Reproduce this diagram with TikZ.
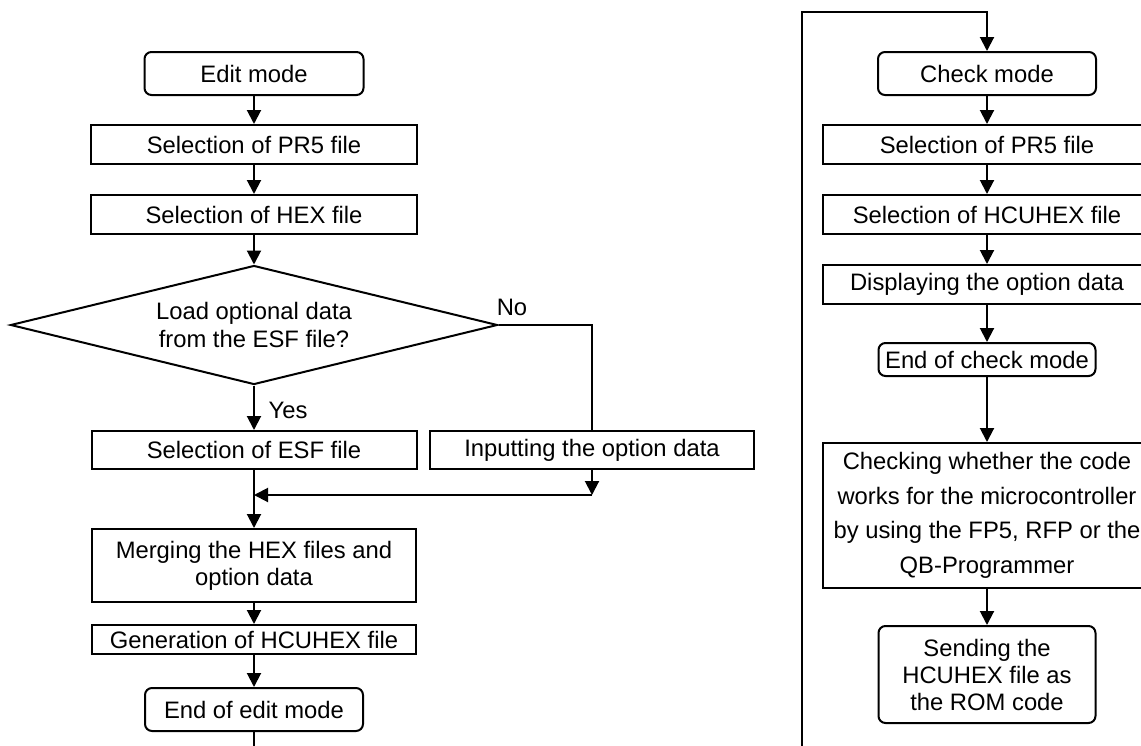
\documentclass[tikz,border=0pt]{standalone}
\usepackage{fontspec}
\setmainfont{Liberation Sans}
\usetikzlibrary{arrows.meta,shapes.geometric}
\tikzset{
  every node/.style={font=\fontsize{23.8pt}{27.5pt}\selectfont},
  stepbox/.style={draw, line width=2pt, inner sep=0pt, align=center},
  termbox/.style={stepbox, rounded corners=7pt},
  conn/.style={line width=2pt},
  arr/.style={conn, -{Triangle[length=14pt,width=14pt]}},
  lbl/.style={inner sep=0pt}
}
\begin{document}
\begin{tikzpicture}[x=1pt,y=-1pt]
\clip (0,0) rectangle (1141,745);
% left column
\node[termbox, minimum width=219pt, minimum height=43pt] (edit) at (254,73.5) {Edit mode};
\node[stepbox, minimum width=326pt, minimum height=39pt] (pr5L) at (254,144.5) {Selection of PR5 file};
\node[stepbox, minimum width=326pt, minimum height=39pt] (hexL) at (254,214.5) {Selection of HEX file};
\node[diamond, draw, line width=2pt, aspect=4.1, inner sep=0pt, minimum width=487pt, minimum height=119pt, align=center,
      font=\fontsize{23.8pt}{28pt}\selectfont] (dec) at (254,325) {Load optional data\\from the ESF file?};
\node[stepbox, minimum width=325pt, minimum height=38pt] (esf) at (254,450) {Selection of ESF file};
\node[stepbox, minimum width=324pt, minimum height=38pt] (inp) at (592,450) {Inputting the option data};
\node[stepbox, minimum width=324pt, minimum height=73pt, font=\fontsize{23.8pt}{27pt}\selectfont] (merge) at (254,565.5) {Merging the HEX files and\\option data};
\node[stepbox, minimum width=324pt, minimum height=29pt] (gen) at (254,639.5) {Generation of HCUHEX file};
\node[termbox, minimum width=218pt, minimum height=43pt] (endedit) at (254,709.5) {End of edit mode};
\node[lbl] (no) at (512,307) {No};
\node[lbl] (yes) at (288,410) {Yes};
\coordinate (j) at (592,495);
\coordinate (jl) at (254,495);
\coordinate (eb) at (254,746);
\draw[arr] (edit) -- (pr5L);
\draw[arr] (pr5L) -- (hexL);
\draw[arr] (hexL) -- (dec.north);
\draw[arr] (dec.south) -- (esf.north);
\draw[conn] (dec.east) -| (inp.north);
\draw[arr] (inp.south) -- (j);
\draw[arr] (j) -- (jl);
\draw[arr] (esf.south) -- (merge.north);
\draw[arr] (merge) -- (gen);
\draw[arr] (gen) -- (endedit);
\draw[conn] (endedit.south) -- (eb);
% right column
\node[termbox, minimum width=218pt, minimum height=43pt] (check) at (987,73.5) {Check mode};
\node[stepbox, minimum width=328pt, minimum height=39pt] (pr5R) at (987,144.5) {Selection of PR5 file};
\node[stepbox, minimum width=328pt, minimum height=39pt] (hcuR) at (987,214.5) {Selection of HCUHEX file};
\node[stepbox, minimum width=328pt, minimum height=39pt] (disp) at (987,284.5) {Displaying the option data};
\node[termbox, minimum width=217pt, minimum height=33pt] (endchk) at (987,359.5) {End of check mode};
\node[stepbox, minimum width=328pt, minimum height=145pt, font=\fontsize{23.8pt}{34.5pt}\selectfont] (chk) at (987,515.5)
  {Checking whether the code\\works for the microcontroller\\by using the FP5, RFP or the\\QB-Programmer};
\node[termbox, minimum width=217pt, minimum height=97pt, font=\fontsize{23.8pt}{27pt}\selectfont] (send) at (987,674.5)
  {Sending the\\HCUHEX file as\\the ROM code};
\coordinate (rb) at (802,746);
\coordinate (rt) at (802,12);
\draw[arr] (rb) -- (rt) -| (check.north);
\draw[arr] (check) -- (pr5R);
\draw[arr] (pr5R) -- (hcuR);
\draw[arr] (hcuR) -- (disp);
\draw[arr] (disp) -- (endchk);
\draw[arr] (endchk) -- (chk);
\draw[arr] (chk) -- (send);
\end{tikzpicture}
\end{document}
